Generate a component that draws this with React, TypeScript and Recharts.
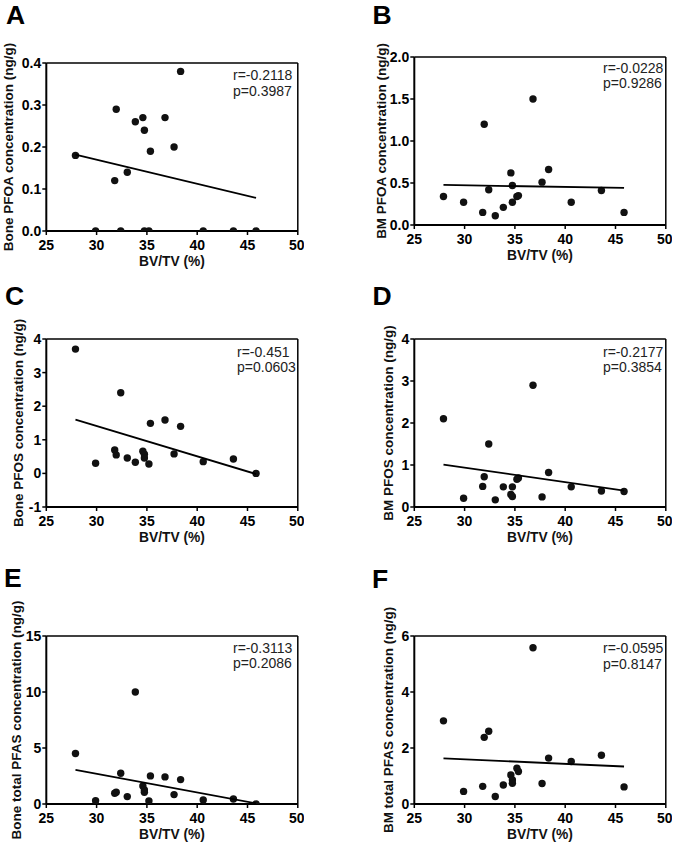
import {
  ReferenceLine,
  Scatter,
  ScatterChart,
  XAxis,
  YAxis,
} from "recharts";

// BV/TV (%) of the 18 samples, shared by every panel
const bvtv = [
  27.9, 29.9, 31.8, 31.95, 32.4, 33.05, 33.85, 34.6, 34.75, 34.75, 35.2, 35.35,
  36.8, 37.7, 38.35, 40.6, 43.6, 45.85,
];

const bonePfoa = [0.18, 0, 0.12, 0.29, 0, 0.14, 0.26, 0.27, 0.24, 0, 0, 0.19, 0.27, 0.2, 0.38, 0, 0, 0];
const bmPfoa = [0.34, 0.27, 0.15, 1.2, 0.42, 0.11, 0.21, 0.62, 0.47, 0.27, 0.34, 0.35, 1.5, 0.51, 0.66, 0.27, 0.41, 0.15];
const bonePfos = [3.7, 0.3, 0.7, 0.55, 2.4, 0.46, 0.33, 0.66, 0.57, 0.46, 0.28, 1.49, 1.59, 0.58, 1.4, 0.35, 0.43, 0];
const bmPfos = [2.1, 0.21, 0.49, 0.72, 1.5, 0.17, 0.48, 0.3, 0.48, 0.25, 0.66, 0.69, 2.9, 0.24, 0.82, 0.48, 0.38, 0.37];
const boneTotal = [4.51, 0.3, 0.96, 1.05, 2.75, 0.66, 10.0, 1.61, 1.25, 1.05, 0.27, 2.51, 2.42, 0.84, 2.18, 0.36, 0.45, 0];
const bmTotal = [2.97, 0.45, 0.63, 2.38, 2.6, 0.27, 0.68, 1.04, 0.86, 0.74, 1.28, 1.16, 5.58, 0.73, 1.64, 1.52, 1.74, 0.61];

// regression line end points (x, y)
const fitX = [27.9, 45.85];
const fitBonePfoa = [0.182, 0.079];
const fitBmPfoa = [0.477, 0.441];
const fitBonePfos = [1.6, -0.02];
const fitBmPfos = [1.01, 0.39];
const fitBoneTotal = [3.05, 0.06];
const fitBmTotal = [1.63, 1.34];

const xTicks = [25, 30, 35, 40, 45, 50];

const FONT = "'Liberation Sans', Arial, Helvetica, sans-serif";
const PLOT_W = 251.5;
const PLOT_H = 168;
const M_TOP = 50;
const M_RIGHT = 6;
const X_H = 46;

type PanelCfg = {
  letter: string;
  yLabel: string;
  ys: number[];
  fit: number[];
  domain: [number, number];
  ticks: number[];
  digits: number;
  r: string;
  p: string;
  chartLeft: number;
  plotLeft: number;
  plotTop: number;
  labelX: number;
  letterX: number;
  letterY: number;
  annX: number;
  annY: number;
};

const panels: PanelCfg[] = [
  {
    letter: "A", yLabel: "Bone PFOA concentration  (ng/g)", ys: bonePfoa, fit: fitBonePfoa,
    domain: [0, 0.4], ticks: [0, 0.1, 0.2, 0.3, 0.4], digits: 1, r: "r=-0.2118", p: "p=0.3987",
    chartLeft: 0, plotLeft: 46.3, plotTop: 62.8, labelX: 9, letterX: 6, letterY: 24, annX: 233, annY: 80,
  },
  {
    letter: "B", yLabel: "BM PFOA concentration  (ng/g)", ys: bmPfoa, fit: fitBmPfoa,
    domain: [0, 2], ticks: [0, 0.5, 1, 1.5, 2], digits: 1, r: "r=-0.0228", p: "p=0.9286",
    chartLeft: 340, plotLeft: 414.3, plotTop: 56.7, labelX: 382, letterX: 372.5, letterY: 24, annX: 603, annY: 72.5,
  },
  {
    letter: "C", yLabel: "Bone PFOS concentration  (ng/g)", ys: bonePfos, fit: fitBonePfos,
    domain: [-1, 4], ticks: [-1, 0, 1, 2, 3, 4], digits: 0, r: "r=-0.451", p: "p=0.0603",
    chartLeft: 0, plotLeft: 46.3, plotTop: 339.2, labelX: 19, letterX: 5, letterY: 305, annX: 237, annY: 356.5,
  },
  {
    letter: "D", yLabel: "BM PFOS concentration  (ng/g)", ys: bmPfos, fit: fitBmPfos,
    domain: [0, 4], ticks: [0, 1, 2, 3, 4], digits: 0, r: "r=-0.2177", p: "p=0.3854",
    chartLeft: 340, plotLeft: 414.3, plotTop: 339, labelX: 389, letterX: 372.5, letterY: 305, annX: 603, annY: 356.5,
  },
  {
    letter: "E", yLabel: "Bone total PFAS concentration  (ng/g)", ys: boneTotal, fit: fitBoneTotal,
    domain: [0, 15], ticks: [0, 5, 10, 15], digits: 0, r: "r=-0.3113", p: "p=0.2086",
    chartLeft: 0, plotLeft: 46.3, plotTop: 635.7, labelX: 17, letterX: 4, letterY: 587, annX: 233, annY: 652.5,
  },
  {
    letter: "F", yLabel: "BM total PFAS concentration  (ng/g)", ys: bmTotal, fit: fitBmTotal,
    domain: [0, 6], ticks: [0, 2, 4, 6], digits: 0, r: "r=-0.0595", p: "p=0.8147",
    chartLeft: 340, plotLeft: 414.3, plotTop: 636, labelX: 389, letterX: 372, letterY: 588, annX: 603, annY: 653,
  },
];

const tickStyle = { fill: "#000", fontSize: 14, fontWeight: "bold", fontFamily: FONT };

const Dot = (props: any) =>
  props.cx == null ? <g /> : <circle cx={props.cx} cy={props.cy} r={3.7} fill="#111" />;

const NoDot = () => <g />;

function Panel({ cfg }: { cfg: PanelCfg }) {
  const points = bvtv.map((x, i) => ({ x, y: cfg.ys[i] }));
  const line = fitX.map((x, i) => ({ x, y: cfg.fit[i] }));
  const yw = cfg.plotLeft - cfg.chartLeft;
  const width = yw + PLOT_W + M_RIGHT;
  const height = M_TOP + PLOT_H + X_H;
  const midY = M_TOP + PLOT_H / 2;
  const lx = cfg.labelX - cfg.chartLeft;

  return (
    <div style={{ position: "absolute", left: cfg.chartLeft, top: cfg.plotTop - M_TOP }}>
      <ScatterChart
        width={width}
        height={height}
        margin={{ top: M_TOP, right: M_RIGHT, bottom: 0, left: 0 }}
      >
        <XAxis
          type="number"
          dataKey="x"
          domain={[25, 50]}
          ticks={xTicks}
          allowDataOverflow
          height={X_H}
          stroke="#000"
          axisLine={{ stroke: "#000", strokeWidth: 2 }}
          tickLine={{ stroke: "#000", strokeWidth: 1.5 }}
          tickSize={4}
          tickMargin={5}
          tick={tickStyle}
          label={{
            content: () => (
              <text
                x={yw + PLOT_W / 2}
                y={M_TOP + PLOT_H + 35}
                textAnchor="middle"
                fontFamily={FONT}
                fontWeight="bold"
                fontSize={13.8}
                fill="#111"
              >
                BV/TV (%)
              </text>
            ),
          }}
        />
        <YAxis
          type="number"
          dataKey="y"
          domain={cfg.domain}
          ticks={cfg.ticks}
          allowDataOverflow
          width={yw}
          stroke="#000"
          axisLine={{ stroke: "#000", strokeWidth: 2 }}
          tickLine={{ stroke: "#000", strokeWidth: 1.5 }}
          tickSize={4}
          tickMargin={1}
          tick={tickStyle}
          tickFormatter={(v: number) => v.toFixed(cfg.digits)}
          label={{
            content: () => (
              <text
                x={lx}
                y={midY}
                transform={`rotate(-90, ${lx}, ${midY})`}
                textAnchor="middle"
                dominantBaseline="central"
                fontFamily={FONT}
                fontWeight="bold"
                fontSize={13.5}
                fill="#111"
              >
                {cfg.yLabel}
              </text>
            ),
          }}
        />
        <ReferenceLine y={cfg.domain[1]} stroke="#000" strokeWidth={1.5} />
        <ReferenceLine x={50} stroke="#000" strokeWidth={1.5} />
        <Scatter data={points} shape={Dot} isAnimationActive={false} />
        <Scatter
          data={line}
          line={{ stroke: "#000", strokeWidth: 1.8 }}
          shape={NoDot}
          isAnimationActive={false}
        />
      </ScatterChart>
    </div>
  );
}

export default function App() {
  return (
    <div
      style={{
        position: "absolute",
        left: 0,
        top: 0,
        width: 675,
        height: 846,
        background: "#fff",
        overflow: "hidden",
      }}
    >
      {panels.map((cfg) => (
        <Panel key={cfg.letter} cfg={cfg} />
      ))}
      <svg
        width={675}
        height={846}
        style={{ position: "absolute", left: 0, top: 0, pointerEvents: "none" }}
      >
        {panels.map((cfg) => (
          <g key={cfg.letter} fontFamily={FONT}>
            <text x={cfg.letterX} y={cfg.letterY} fontSize={26.5} fontWeight="bold" fill="#000">
              {cfg.letter}
            </text>
            <text x={cfg.annX} y={cfg.annY} fontSize={14} fill="#222">
              {cfg.r}
            </text>
            <text x={cfg.annX} y={cfg.annY + 15.5} fontSize={14} fill="#222">
              {cfg.p}
            </text>
          </g>
        ))}
      </svg>
    </div>
  );
}
